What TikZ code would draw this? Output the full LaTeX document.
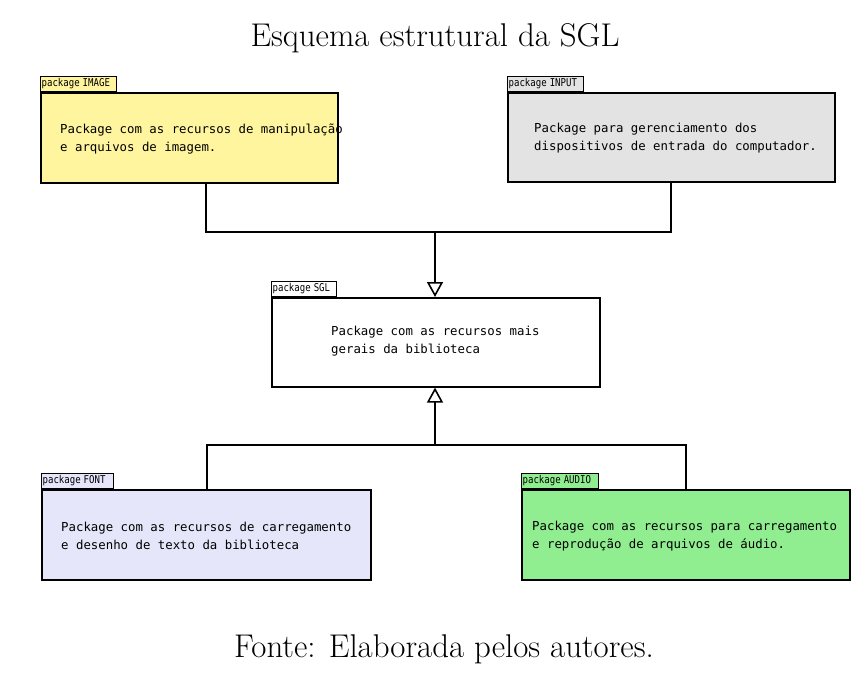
\documentclass[tikz,border=0pt]{standalone}
\usepackage{fontspec}
\newfontfamily\monofont{DejaVu Sans Mono}
\usetikzlibrary{arrows.meta}
\definecolor{imgyellow}{HTML}{FFF59E}
\definecolor{inputgray}{HTML}{E3E3E3}
\definecolor{fontlav}{HTML}{E6E6FA}
\definecolor{audiogreen}{HTML}{90EE90}
\newcommand{\tabtxt}[1]{\scalebox{0.84}[1]{#1}}
\tikzset{
  pkgbox/.style={draw, line width=1.6bp, anchor=north west, inner sep=0pt},
  pkgtab/.style={draw, line width=1.3bp, anchor=south west, inner xsep=1bp, inner ysep=0pt,
    minimum height=15bp, align=left,
    font=\monofont\fontsize{10.8}{11}\selectfont},
  pkgtext/.style={anchor=west, align=left, inner sep=0pt,
    font=\monofont\fontsize{12.4}{18}\selectfont},
  conn/.style={line width=1.8bp},
  gen/.style={conn, -{Triangle[open, length=15bp, width=16bp, line width=1.6bp]}},
  caption/.style={font=\fontsize{33}{40}\selectfont, inner sep=0pt}
}
\begin{document}
\begin{tikzpicture}[x=1bp, y=-1bp]
\useasboundingbox (0,0) rectangle (868,682);
\node[caption, anchor=base] (title) at (435,47) {Esquema estrutural da SGL};
% IMAGE
\node[pkgbox, fill=imgyellow, minimum width=297bp, minimum height=90bp] (image) at (40,92) {};
\node[pkgtab, fill=imgyellow, text width=74bp] (imagetab) at (image.north west) {\tabtxt{package IMAGE}};
\node[pkgtext] (imagetxt) at (60,139) {Package com as recursos de manipulação\\e arquivos de imagem.};
% INPUT
\node[pkgbox, fill=inputgray, minimum width=327bp, minimum height=89bp] (input) at (507,92) {};
\node[pkgtab, fill=inputgray, text width=74bp] (inputtab) at (input.north west) {\tabtxt{package INPUT}};
\node[pkgtext] (inputtxt) at (534,138) {Package para gerenciamento dos\\dispositivos de entrada do computador.};
% SGL
\node[pkgbox, fill=white, minimum width=328bp, minimum height=89bp] (sgl) at (271,297) {};
\node[pkgtab, fill=white, text width=63bp] (sgltab) at (sgl.north west) {\tabtxt{package SGL}};
\node[pkgtext] (sgltxt) at (331,341) {Package com as recursos mais\\gerais da biblioteca};
% FONT
\node[pkgbox, fill=fontlav, minimum width=329bp, minimum height=90bp] (fontp) at (41,489) {};
\node[pkgtab, fill=fontlav, text width=70bp] (fonttab) at (fontp.north west) {\tabtxt{package FONT}};
\node[pkgtext] (fonttxt) at (61,536) {Package com as recursos de carregamento\\e desenho de texto da biblioteca};
% AUDIO
\node[pkgbox, fill=audiogreen, minimum width=328bp, minimum height=90bp] (audio) at (521,489) {};
\node[pkgtab, fill=audiogreen, text width=75bp] (audiotab) at (audio.north west) {\tabtxt{package AUDIO}};
\node[pkgtext] (audiotxt) at (532,536) {Package com as recursos para carregamento\\e reprodução de arquivos de áudio.};
% connectors
\coordinate (jtop) at (435,232);
\coordinate (jbot) at (435,445);
\draw[conn] ([xshift=16.5bp]image.south) |- (jtop);
\draw[conn] ([xshift=-0.5bp]input.south) |- (jtop);
\draw[gen] (jtop) -- (sgl.north -| jtop);
\draw[conn] ([xshift=0.5bp]fontp.north) |- (jbot);
\draw[conn] ([xshift=0bp]audio.north) |- (jbot);
\draw[gen] (jbot) -- (sgl.south -| jbot);
\node[caption, anchor=base] (cap) at (444,657) {Fonte: Elaborada pelos autores.};
\end{tikzpicture}
\end{document}
